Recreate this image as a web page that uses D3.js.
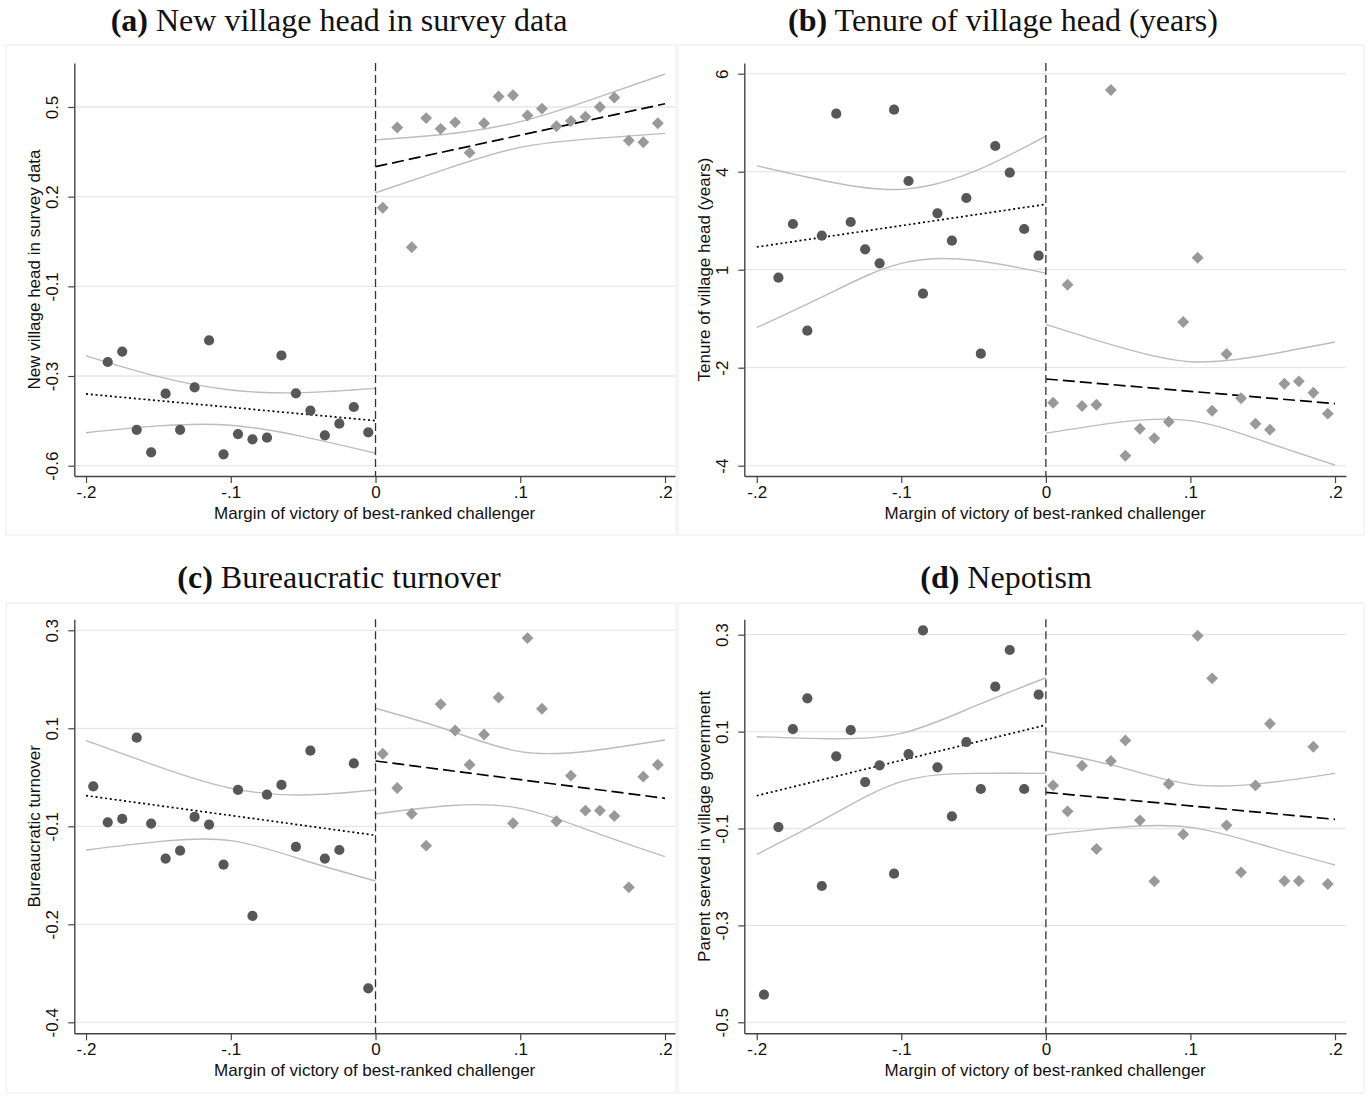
<!DOCTYPE html>
<html>
<head>
<meta charset="utf-8">
<script src="https://cdn.jsdelivr.net/npm/d3@7"></script>
<style>
  body { margin: 0; background: #fff; }
  svg { display: block; }
</style>
</head>
<body>
<svg id="chart" width="1369" height="1097"></svg>
<script>
// ---- Shared axis definitions ----
const xBinsLeft = [-0.195, -0.185, -0.175, -0.165, -0.155, -0.145, -0.135, -0.125, -0.115, -0.105,
                   -0.095, -0.085, -0.075, -0.065, -0.055, -0.045, -0.035, -0.025, -0.015, -0.005];
const xBinsRight = [0.005, 0.015, 0.025, 0.035, 0.045, 0.055, 0.065, 0.075, 0.085, 0.095,
                    0.105, 0.115, 0.125, 0.135, 0.145, 0.155, 0.165, 0.175, 0.185, 0.195];
const ciGridLeft = [-0.2, -0.15, -0.1, -0.05, 0];
const ciGridRight = [0, 0.05, 0.1, 0.15, 0.2];
const xTicks = [-0.2, -0.1, 0, 0.1, 0.2];
const xTickLabels = ["-.2", "-.1", "0", ".1", ".2"];
const xTitle = "Margin of victory of best-ranked challenger";

// ---- (a) New village head in survey data ----
const aLeft = [-0.282, -0.250, -0.490, -0.559, -0.379, -0.490, -0.360, -0.216, -0.565, -0.503,
               -0.519, -0.514, -0.262, -0.378, -0.431, -0.507, -0.471, -0.420, -0.498];
const aRight = [0.191, 0.437, 0.070, 0.466, 0.433, 0.453, 0.360, 0.450, 0.532, 0.536,
                0.474, 0.495, 0.441, 0.457, 0.470, 0.500, 0.529, 0.397, 0.392, 0.450];
const aFitLeft = [-0.380, -0.462];
const aFitRight = [0.317, 0.510];
const aCiHiLeft = [-0.263, -0.327, -0.368, -0.376, -0.363];
const aCiLoLeft = [-0.499, -0.478, -0.476, -0.511, -0.562];
const aCiHiRight = [0.399, 0.417, 0.455, 0.524, 0.601];
const aCiLoRight = [0.237, 0.312, 0.376, 0.403, 0.419];
const aTicks = [0.5, 0.225, -0.05, -0.325, -0.6];
const aTickLabels = ["0.5", "0.2", "-0.1", "-0.3", "-0.6"];

// ---- (b) Tenure of village head (years) ----
const bLeft = [0.796, 2.166, -0.556, 1.867, 4.980, 2.217, 1.520, 1.163, 5.082, 3.263,
               0.388, 2.439, 1.740, 2.829, -1.143, 4.156, 3.474, 2.038, 1.357];
const bRight = [-2.393, 0.617, -2.477, -2.444, 5.584, -3.745, -3.056, -3.301, -2.878, -0.334,
                1.306, -2.597, -1.150, -2.281, -2.929, -3.082, -1.908, -1.848, -2.138, -2.673];
const bFitLeft = [1.579, 2.668];
const bFitRight = [-1.788, -2.418];
const bCiHiLeft = [3.65, 3.245, 3.05, 3.50, 4.41];
const bCiLoLeft = [-0.48, 0.39, 1.16, 1.24, 0.91];
const bCiHiRight = [-0.393, -0.964, -1.347, -1.19, -0.845];
const bCiLoRight = [-3.173, -2.895, -2.851, -3.37, -3.982];
const bTicks = [6, 3.5, 1, -1.5, -4];
const bTickLabels = ["6", "4", "1", "-2", "-4"];

// ---- (c) Bureaucratic turnover ----
const cLeft = [0.0214, -0.0429, -0.0369, 0.1083, -0.0452, -0.1077, -0.0935, -0.0333, -0.047, -0.1185,
               0.0149, -0.2101, 0.0065, 0.0238, -0.0869, 0.0851, -0.1077, -0.0923, 0.0625, -0.3393];
const cRight = [0.0796, 0.0184, -0.0275, -0.0846, 0.168, 0.121, 0.060, 0.114, 0.180, -0.0446,
                0.286, 0.160, -0.041, 0.0404, -0.022, -0.022, -0.0316, -0.159, 0.0386, 0.060];
const cFitLeft = [0.0048, -0.0661];
const cFitRight = [0.0666, 0.0];
const cCiHiLeft = [0.103, 0.0565, 0.0179, 0.006, 0.0149];
const cCiLoLeft = [-0.0923, -0.0774, -0.0756, -0.1101, -0.1476];
const cCiHiRight = [0.1607, 0.122, 0.0833, 0.085, 0.104];
const cCiLoRight = [-0.028, -0.0132, -0.0179, -0.0596, -0.1043];
const cTicks = [0.3, 0.125, -0.05, -0.225, -0.4];
const cTickLabels = ["0.3", "0.1", "-0.1", "-0.2", "-0.4"];

// ---- (d) Nepotism ----
const dLeft = [-0.443, -0.097, 0.1053, 0.1686, -0.2187, 0.0489, 0.1032, -0.0041, 0.0303, -0.1933,
               0.0537, 0.3089, 0.0262, -0.075, 0.0785, -0.0185, 0.1927, 0.2684, -0.0185, 0.1762];
const dRight = [-0.011, -0.0646, 0.0296, -0.1424, 0.0392, 0.0819, -0.0832, -0.2091, -0.0082, -0.1121,
                0.2979, 0.2099, -0.0935, -0.1905, -0.011, 0.1163, -0.2084, -0.2084, 0.0688, -0.2146];
const dFitLeft = [-0.0323, 0.1136];
const dFitRight = [-0.0254, -0.0811];
const dCiHiLeft = [0.0895, 0.0853, 0.0964, 0.1514, 0.2112];
const dCiLoLeft = [-0.1534, -0.0756, -0.0034, 0.0138, 0.0138];
const dCiHiRight = [0.0599, 0.0276, -0.0089, -0.0068, 0.0138];
const dCiLoRight = [-0.1135, -0.0977, -0.0977, -0.1341, -0.1754];
const dTicks = [0.3, 0.1, -0.1, -0.3, -0.5];
const dTickLabels = ["0.3", "0.1", "-0.1", "-0.3", "-0.5"];

const panelLetters = ["(a)", "(b)", "(c)", "(d)"];
const panelTitles = ["New village head in survey data", "Tenure of village head (years)",
                     "Bureaucratic turnover", "Nepotism"];
const yTitles = ["New village head in survey data", "Tenure of village head (years)",
                 "Bureaucratic turnover", "Parent served in village government"];

// ---- Panel assembly (data + frame geometry) ----
const panels = [
  { left: aLeft, xl: xBinsLeft.slice(1), right: aRight, fitL: aFitLeft, fitR: aFitRight,
    ciHiL: aCiHiLeft, ciLoL: aCiLoLeft, ciHiR: aCiHiRight, ciLoR: aCiLoRight,
    ticks: aTicks, tickLabels: aTickLabels,
    box: [6, 45, 676, 535], plot: { l: 74.3, t: 63, r: 675, b: 476 },
    xDom: [-0.2081, 0.2069], yDom: [-0.6316, 0.6349], titleX: 339, titleY: 31 },
  { left: bLeft, xl: xBinsLeft.slice(1), right: bRight, fitL: bFitLeft, fitR: bFitRight,
    ciHiL: bCiHiLeft, ciLoL: bCiLoLeft, ciHiR: bCiHiRight, ciLoR: bCiLoRight,
    ticks: bTicks, tickLabels: bTickLabels,
    box: [678, 45, 1364, 535], plot: { l: 744.3, t: 63, r: 1346, b: 476 },
    xDom: [-0.2086, 0.2076], yDom: [-4.263, 6.273], titleX: 1003, titleY: 31 },
  { left: cLeft, xl: xBinsLeft, right: cRight, fitL: cFitLeft, fitR: cFitRight,
    ciHiL: cCiHiLeft, ciLoL: cCiLoLeft, ciHiR: cCiHiRight, ciLoR: cCiLoRight,
    ticks: cTicks, tickLabels: cTickLabels,
    box: [6, 603, 676, 1093], plot: { l: 74.3, t: 619.3, r: 675, b: 1033.3 },
    xDom: [-0.2081, 0.2069], yDom: [-0.4196, 0.3196], titleX: 339, titleY: 588 },
  { left: dLeft, xl: xBinsLeft, right: dRight, fitL: dFitLeft, fitR: dFitRight,
    ciHiL: dCiHiLeft, ciLoL: dCiLoLeft, ciHiR: dCiHiRight, ciLoR: dCiLoRight,
    ticks: dTicks, tickLabels: dTickLabels,
    box: [678, 603, 1364, 1093], plot: { l: 744.3, t: 619.3, r: 1346, b: 1033.3 },
    xDom: [-0.2086, 0.2076], yDom: [-0.5227, 0.3318], titleX: 1006, titleY: 588 }
];

const svg = d3.select("#chart");
const sansFont = "'Liberation Sans', Arial, sans-serif";
const serifFont = "'Liberation Serif', 'Times New Roman', serif";
const labelSize = 17;

const circleColor = "#575757";
const diamondColor = "#999999";
const ciColor = "#bcbcbc";
const gridColor = "#e6e6e6";
const axisColor = "#444";

panels.forEach((p, i) => {
  const g = svg.append("g");
  const { l, t, r, b } = p.plot;

  // panel frame
  g.append("rect")
    .attr("x", p.box[0]).attr("y", p.box[1])
    .attr("width", p.box[2] - p.box[0]).attr("height", p.box[3] - p.box[1])
    .attr("fill", "#fff").attr("stroke", "#ececec").attr("stroke-width", 1);

  // title
  const title = g.append("text")
    .attr("x", p.titleX).attr("y", p.titleY)
    .attr("text-anchor", "middle")
    .attr("font-family", serifFont).attr("font-size", 32).attr("fill", "#111");
  title.append("tspan").attr("font-weight", "bold").text(panelLetters[i]);
  title.append("tspan").text(" " + panelTitles[i]);

  const x = d3.scaleLinear().domain(p.xDom).range([l, r]);
  const y = d3.scaleLinear().domain(p.yDom).range([b, t]);

  // horizontal grid lines at the tick values
  g.append("g").selectAll("line").data(p.ticks).join("line")
    .attr("x1", l).attr("x2", r)
    .attr("y1", d => y(d)).attr("y2", d => y(d))
    .attr("stroke", gridColor).attr("stroke-width", 1.3);

  // confidence bands
  const band = (grid) => d3.line().x((d, k) => x(grid[k])).y(d => y(d)).curve(d3.curveNatural);
  [[p.ciHiL, ciGridLeft], [p.ciLoL, ciGridLeft], [p.ciHiR, ciGridRight], [p.ciLoR, ciGridRight]]
    .forEach(([vals, grid]) => {
      g.append("path").attr("d", band(grid)(vals))
        .attr("fill", "none").attr("stroke", ciColor).attr("stroke-width", 1.4);
    });

  // linear fits on each side of the cutoff
  const fitLine = d3.line().x(d => x(d[0])).y(d => y(d[1]));
  g.append("path")
    .attr("d", fitLine([[-0.2, p.fitL[0]], [0, p.fitL[1]]]))
    .attr("fill", "none").attr("stroke", "#000").attr("stroke-width", 1.7)
    .attr("stroke-dasharray", "2,2.8");
  g.append("path")
    .attr("d", fitLine([[0, p.fitR[0]], [0.2, p.fitR[1]]]))
    .attr("fill", "none").attr("stroke", "#000").attr("stroke-width", 1.7)
    .attr("stroke-dasharray", "12,5");

  // cutoff line
  g.append("line")
    .attr("x1", x(0)).attr("x2", x(0)).attr("y1", t).attr("y2", b)
    .attr("stroke", "#333").attr("stroke-width", 1.3).attr("stroke-dasharray", "8,4");

  // binned means: controls (circles) and treated (diamonds)
  g.append("g").selectAll("circle").data(p.left).join("circle")
    .attr("cx", (d, k) => x(p.xl[k])).attr("cy", d => y(d))
    .attr("r", 5.1).attr("fill", circleColor);
  const diamond = d3.symbol().type(d3.symbolDiamond2).size(90);
  g.append("g").selectAll("path").data(p.right).join("path")
    .attr("transform", (d, k) => `translate(${x(xBinsRight[k])},${y(d)})`)
    .attr("d", diamond).attr("fill", diamondColor);

  // x axis
  const xAxis = d3.axisBottom(x).tickValues(xTicks)
    .tickFormat((d, k) => xTickLabels[k]).tickSize(7).tickSizeOuter(0).tickPadding(3);
  const gx = g.append("g").attr("transform", `translate(0,${b})`).call(xAxis);
  gx.select(".domain").attr("stroke", axisColor).attr("stroke-width", 1.4);
  gx.selectAll(".tick line").attr("stroke", axisColor).attr("stroke-width", 1.2);
  gx.selectAll(".tick text").attr("font-family", sansFont).attr("font-size", labelSize).attr("fill", "#111");

  // y axis with rotated labels
  const yAxis = d3.axisLeft(y).tickValues(p.ticks)
    .tickFormat((d, k) => p.tickLabels[k]).tickSize(6).tickSizeOuter(0);
  const gy = g.append("g").attr("transform", `translate(${l},0)`).call(yAxis);
  gy.select(".domain").attr("stroke", axisColor).attr("stroke-width", 1.4);
  gy.selectAll(".tick line").attr("stroke", axisColor).attr("stroke-width", 1.2);
  gy.selectAll(".tick text")
    .attr("x", 0).attr("dy", 0).attr("text-anchor", "middle")
    .attr("transform", "translate(-16,0) rotate(-90)")
    .attr("font-family", sansFont).attr("font-size", labelSize).attr("fill", "#111");

  // axis titles
  g.append("text")
    .attr("x", (l + r) / 2).attr("y", b + 43)
    .attr("text-anchor", "middle")
    .attr("font-family", sansFont).attr("font-size", labelSize).attr("fill", "#111")
    .text(xTitle);
  g.append("text")
    .attr("transform", `translate(${l - 34},${(t + b) / 2}) rotate(-90)`)
    .attr("text-anchor", "middle")
    .attr("font-family", sansFont).attr("font-size", labelSize).attr("fill", "#111")
    .text(yTitles[i]);
});
</script>
</body>
</html>
